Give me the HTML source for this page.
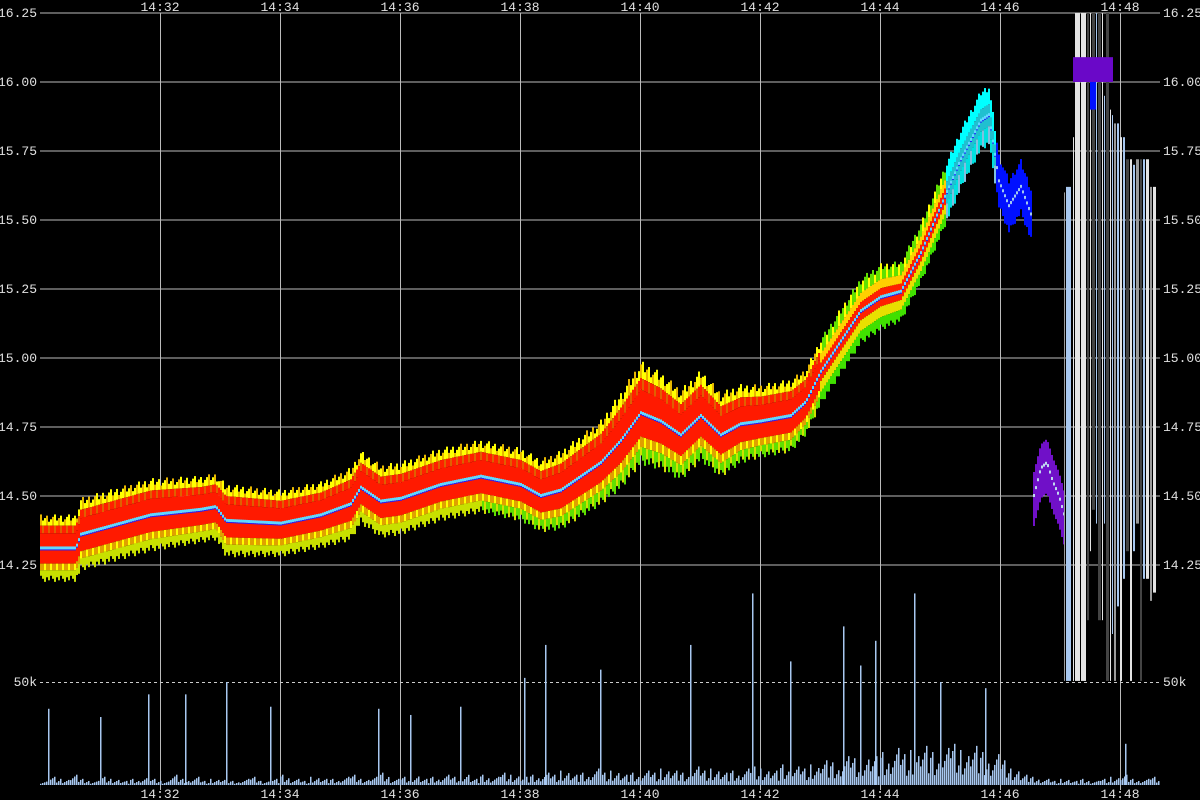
<!DOCTYPE html>
<html><head><meta charset="utf-8"><style>
html,body{margin:0;padding:0;background:#000;}
svg{display:block;}
text{font-family:"Liberation Mono","DejaVu Sans Mono",monospace;font-size:13px;fill:#e0e0e0;}
</style></head><body>
<svg id="chart" width="1200" height="800" viewBox="0 0 1200 800" xmlns="http://www.w3.org/2000/svg">
<rect width="1200" height="800" fill="#000"/>
<g id="grid"></g>
<g id="heat"></g>
<g id="chaos"></g>
<g id="vol"></g>
<g id="labels"></g>
</svg>
<script>
// ---- data ----
const timeTicks = ["14:32","14:34","14:36","14:38","14:40","14:42","14:44","14:46","14:48"];
const tickSeconds = [120,240,360,480,600,720,840,960,1080];
const priceTicks = [16.25,16.00,15.75,15.50,15.25,15.00,14.75,14.50,14.25];
const midTimes = [0,35,40,60,110,160,175,185,240,280,310,320,340,360,400,440,480,500,520,560,580,600,620,640,660,680,700,720,750,765,780,800,820,840,860,880,900,920,940,948,958,968,980,990];
const midPrices = [14.31,14.31,14.36,14.38,14.43,14.45,14.46,14.41,14.40,14.43,14.47,14.53,14.48,14.49,14.54,14.57,14.54,14.50,14.52,14.62,14.70,14.80,14.77,14.72,14.79,14.72,14.76,14.77,14.79,14.84,14.95,15.06,15.17,15.22,15.24,15.38,15.55,15.72,15.86,15.88,15.64,15.55,15.62,15.52];
const halfWidths = [0.11,0.11,0.12,0.12,0.12,0.11,0.11,0.12,0.11,0.11,0.12,0.12,0.12,0.12,0.12,0.12,0.12,0.12,0.13,0.14,0.16,0.17,0.16,0.15,0.15,0.14,0.13,0.12,0.12,0.11,0.11,0.11,0.11,0.11,0.10,0.10,0.10,0.10,0.10,0.10,0.09,0.09,0.09,0.09];
const purpleTimes = [993,1000,1006,1012,1018,1024];
const purplePrices = [14.50,14.60,14.62,14.55,14.50,14.42];
const chaosTimes = [1024,1026,1033,1035,1041,1047,1050,1052,1056,1058,1062,1064,1066,1070,1072,1074,1077,1080,1083,1086,1090,1093,1096,1100,1103,1106,1110,1113];
const chaosTop = [15.60,15.62,15.80,16.25,16.25,16.25,16.25,16.25,16.25,16.25,16.25,15.95,16.25,15.90,15.88,15.85,15.85,15.80,15.80,15.72,15.72,15.70,15.72,15.72,15.72,15.72,15.62,15.62];
const chaosBottom = [13.83,13.83,13.83,13.83,13.83,14.05,14.30,14.45,14.40,14.05,14.05,14.40,13.83,13.83,14.00,13.83,14.10,13.83,14.20,14.30,13.83,14.30,14.40,13.83,14.20,14.20,14.12,14.15];
const chaosShade = [1,3,0,0,0,2,0,2,3,2,0,3,2,0,3,1,3,0,3,2,0,3,1,2,3,0,1,0];
const volBins = [2,4,3,5,3,2,4,3,2,3,4,3,2,5,3,4,2,3,3,2,3,4,2,3,5,3,2,4,3,3,4,5,3,4,6,3,4,5,3,4,5,4,6,3,5,4,6,5,4,5,6,5,7,5,6,8,6,7,5,6,7,6,8,7,6,9,7,8,6,7,8,9,8,7,10,9,8,10,12,11,14,13,15,14,16,18,15,17,19,16,18,20,17,19,16,15,12,8,5,4,3,2,3,2,3,2,3,4,5,3,3,4];
const spikeTimes = [8,60,108,145,186,230,338,370,420,484,505,560,650,712,750,803,820,835,874,900,945,1085];
const spikeValues = [37,33,44,44,50,38,37,34,38,52,68,56,68,93,60,77,58,70,93,50,47,20];

// ---- scales ----
const X0 = 40, PX_PER_S = 1;
const xs = t => X0 + t * PX_PER_S;
const ys = p => 13 + (16.25 - p) * 276;
const VBASE = 785, V50 = 682;
const yv = v => VBASE - v / 50 * (VBASE - V50);
const NS = "http://www.w3.org/2000/svg";
function mk(tag, parent, attrs) { const e = document.createElementNS(NS, tag); for (const k in attrs) e.setAttribute(k, attrs[k]); parent.appendChild(e); return e; }
function interp(ts, vs, t) { if (t <= ts[0]) return vs[0]; for (let i = 1; i < ts.length; i++) { if (t <= ts[i]) { const f = (t - ts[i-1]) / (ts[i] - ts[i-1]); return vs[i-1] + f * (vs[i] - vs[i-1]); } } return vs[vs.length-1]; }

const grid = document.getElementById('grid'), heat = document.getElementById('heat'), chaos = document.getElementById('chaos'), vol = document.getElementById('vol'), labels = document.getElementById('labels');

// grid
priceTicks.forEach(p => {
  const l = mk('line', grid, {x1: 40, x2: 1160, y1: ys(p), y2: ys(p), stroke: '#bbb', 'stroke-width': 1});
  
  
});
tickSeconds.forEach(t => {
  const l = mk('line', grid, {x1: xs(t) + 0.5, x2: xs(t) + 0.5, y1: 13, y2: 790, stroke: '#bbb', 'stroke-width': 1});
  
  
});
const dl = mk('line', grid, {x1: 40, x2: 1160, y1: V50 + 0.5, y2: V50 + 0.5, stroke: '#ccc', 'stroke-width': 1, 'stroke-dasharray': '3,3'});



// heatmap columns
const tEnd = midTimes[midTimes.length - 1];
for (let t = 0; t <= tEnd; t += 2) {
  const m = interp(midTimes, midPrices, t), hw = interp(midTimes, halfWidths, t);
  const x = xs(t), ym = ys(m), h = hw * 276;
  const k = (t / 2) % 3;
  const jt = ((t * 13) % 7 - 3) * 0.04, jb = ((t * 11) % 5 - 2) * 0.05;
  let layers;
  if (t < 780) {
    layers = [[-1 + jt, -0.75, k ? '#ffff00' : '#e8b800'], [-0.75, -0.5, k === 1 ? '#e06000' : '#ff2000'], [-0.5, 0.5, '#ff1a00'], [0.5, 0.72, k === 2 ? '#ffff00' : '#e0a000'], [0.72, 1 + jb, t > 440 ? (k ? '#60e000' : '#d0e000') : '#c8e000']];
  } else if (t < 905) {
    layers = [[-1 + jt, -0.6, k ? '#60e000' : '#ffff00'], [-0.6, -0.3, '#ffd000'], [-0.3, 0.3, '#ff2000'], [0.3, 0.65, '#e8e000'], [0.65, 1 + jb, '#40e000']];
  } else if (t < 955) {
    layers = [[-1 + jt, -0.4, '#00ffff'], [-0.4, 0.4, '#20c0d0'], [0.4, 1 + jb, k ? '#00e0e0' : '#80c0e0']];
  } else {
    layers = [[-1 + jt, 1 + jb, '#0010ff']];
  }
  layers.forEach(L => {
    const r = mk('rect', heat, {x: x, y: ym + L[0] * h, width: 2, height: (L[1] - L[0]) * h, fill: L[2]});
    
    
  });
  const c = mk('rect', heat, {x: x, y: ym - 2, width: 2, height: 3, fill: t < 955 ? '#60d8ff' : '#a0c8f0'});
  
  
  const b = mk('rect', heat, {x: x, y: ym + 1, width: 2, height: 1, fill: '#2020ff'});
  
  
}
// purple segment
for (let t = purpleTimes[0]; t <= purpleTimes[purpleTimes.length - 1]; t += 2) {
  const m = interp(purpleTimes, purplePrices, t), ym = ys(m);
  const r = mk('rect', heat, {x: xs(t), y: ym - 24, width: 2, height: 54, fill: '#7010c8'});
  
  
  const c = mk('rect', heat, {x: xs(t), y: ym - 2, width: 2, height: 3, fill: '#c0d8f0'});
  
  
}
// chaotic late region
const shades = ['#e4e4e4', '#9a9a9a', '#444', '#a8c8f0'];
chaosTimes.forEach((t, i) => {
  const w = i < chaosTimes.length - 1 ? Math.max(1, Math.min(5, chaosTimes[i+1] - t - 1)) : 3;
  const y1 = ys(chaosTop[i]), y2 = Math.min(V50, ys(chaosBottom[i]));
  const r = mk('rect', chaos, {x: xs(t), y: y1, width: w, height: y2 - y1, fill: shades[chaosShade[i]]});
  
  
});
const pb = mk('rect', chaos, {x: xs(1033), y: ys(16.09), width: 40, height: ys(16.0) - ys(16.09), fill: '#6a08c8'});


const bb = mk('rect', chaos, {x: xs(1050), y: ys(16.0), width: 6, height: ys(15.9) - ys(16.0), fill: '#0010ff'});



// volume
volBins.forEach((v, i) => {
  for (let j = 0; j < 10; j += 2) {
    const f = 0.3 + 0.7 * (((i * 7 + j * 3) % 5) / 4);
    const hv = v * f;
    const r = mk('rect', vol, {x: xs(i * 10 + j), y: yv(hv), width: 1.5, height: VBASE - yv(hv), fill: '#a8c8f0'});
    
    
  }
});
spikeTimes.forEach((t, i) => {
  const r = mk('rect', vol, {x: xs(t), y: yv(spikeValues[i]), width: 1.5, height: VBASE - yv(spikeValues[i]), fill: '#a8c8f0'});
  
  
});

// labels
timeTicks.forEach((s, i) => {
  const a = mk('text', labels, {x: xs(tickSeconds[i]), y: 11, 'text-anchor': 'middle'});
  a.textContent = s;
  
  
  const b = mk('text', labels, {x: xs(tickSeconds[i]), y: 798, 'text-anchor': 'middle'});
  b.textContent = s;
  
  
});
priceTicks.forEach(p => {
  const a = mk('text', labels, {x: 37, y: ys(p) + 4, 'text-anchor': 'end'});
  a.textContent = p.toFixed(2);
  
  
  const b = mk('text', labels, {x: 1163, y: ys(p) + 4});
  b.textContent = p.toFixed(2);
  
  
});
const v1 = mk('text', labels, {x: 37, y: V50 + 4, 'text-anchor': 'end'});
v1.textContent = '50k';


const v2 = mk('text', labels, {x: 1163, y: V50 + 4});
v2.textContent = '50k';


</script>
</body></html>
